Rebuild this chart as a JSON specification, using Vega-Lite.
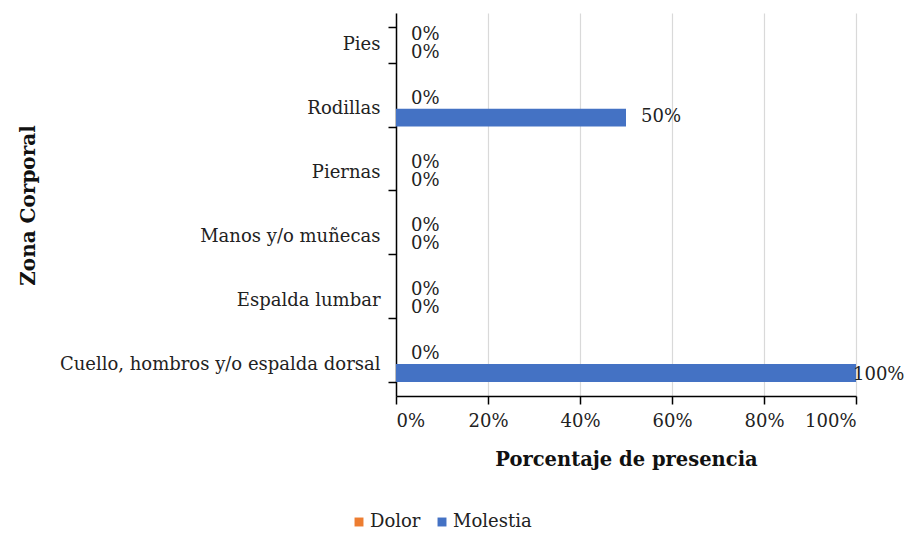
{
  "$schema": "https://vega.github.io/schema/vega-lite/v6.json",
  "width": 460,
  "height": 383,
  "autosize": "none",
  "padding": {"left": 396, "top": 13, "right": 52, "bottom": 139},
  "background": "white",
  "config": {
    "font": "DejaVu Serif",
    "view": {"stroke": null},
    "axis": {"labelFont": "DejaVu Serif", "titleFont": "DejaVu Serif", "labelColor": "#222", "titleColor": "#111"}
  },
  "data": {
    "values": [
      {"zona": "Pies", "serie": "Dolor", "valor": 0},
      {"zona": "Pies", "serie": "Molestia", "valor": 0},
      {"zona": "Rodillas", "serie": "Dolor", "valor": 0},
      {"zona": "Rodillas", "serie": "Molestia", "valor": 0.5},
      {"zona": "Piernas", "serie": "Dolor", "valor": 0},
      {"zona": "Piernas", "serie": "Molestia", "valor": 0},
      {"zona": "Manos y/o muñecas", "serie": "Dolor", "valor": 0},
      {"zona": "Manos y/o muñecas", "serie": "Molestia", "valor": 0},
      {"zona": "Espalda lumbar", "serie": "Dolor", "valor": 0},
      {"zona": "Espalda lumbar", "serie": "Molestia", "valor": 0},
      {"zona": "Cuello, hombros y/o espalda dorsal", "serie": "Dolor", "valor": 0},
      {"zona": "Cuello, hombros y/o espalda dorsal", "serie": "Molestia", "valor": 1}
    ]
  },
  "encoding": {
    "y": {
      "field": "zona",
      "type": "nominal",
      "sort": ["Pies", "Rodillas", "Piernas", "Manos y/o muñecas", "Espalda lumbar", "Cuello, hombros y/o espalda dorsal"],
      "scale": {"paddingInner": 0.44, "paddingOuter": 0.22},
      "axis": {
        "title": "Zona Corporal",
        "titleFontSize": 20,
        "titleFontWeight": "bold",
        "titleX": -368,
        "titleY": 192,
        "titleAlign": "center",
        "titleBaseline": "middle",
        "labelFontSize": 18,
        "labelLimit": 0,
        "labelPadding": 8,
        "tickBand": "extent",
        "tickSize": 8,
        "tickColor": "#000",
        "domainColor": "#000",
        "domainWidth": 1.5,
        "tickWidth": 1.5,
        "grid": false
      }
    },
    "yOffset": {
      "field": "serie",
      "type": "nominal",
      "sort": ["Dolor", "Molestia"],
      "scale": {"paddingInner": 0, "paddingOuter": 0}
    },
    "x": {
      "field": "valor",
      "type": "quantitative",
      "scale": {"domain": [0, 1]},
      "axis": {
        "title": "Porcentaje de presencia",
        "titleFontSize": 19.5,
        "titleFontWeight": "bold",
        "titlePadding": 20,
        "format": ".0%",
        "values": [0, 0.2, 0.4, 0.6, 0.8, 1],
        "labelFontSize": 18,
        "labelPadding": 8,
        "tickSize": 8,
        "tickColor": "#000",
        "tickWidth": 1.5,
        "domainColor": "#000",
        "domainWidth": 1.5,
        "gridColor": "#d9d9d9",
        "gridWidth": 1.2
      }
    }
  },
  "layer": [
    {
      "mark": {"type": "bar", "height": {"band": 1}},
      "encoding": {
        "color": {
          "field": "serie",
          "type": "nominal",
          "sort": ["Dolor", "Molestia"],
          "scale": {"domain": ["Dolor", "Molestia"], "range": ["#ED7D31", "#4472C4"]},
          "legend": {
            "title": null,
            "orient": "none",
            "direction": "horizontal",
            "legendX": -46,
            "legendY": 500,
            "symbolType": "square",
            "symbolSize": 80,
            "symbolStrokeWidth": 0,
            "labelFontSize": 18,
            "labelFont": "DejaVu Serif",
            "labelColor": "#222",
            "labelOffset": 2,
            "columnPadding": 12
          }
        }
      }
    },
    {
      "transform": [{"filter": "datum.valor < 1"}],
      "mark": {"type": "text", "align": "left", "baseline": "middle", "dx": 15, "dy": -1, "fontSize": 18, "font": "DejaVu Serif", "color": "#222"},
      "encoding": {"text": {"field": "valor", "type": "quantitative", "format": ".0%"}}
    },
    {
      "transform": [{"filter": "datum.valor >= 1"}],
      "mark": {"type": "text", "align": "left", "baseline": "middle", "dx": -3, "dy": 2, "fontSize": 18, "font": "DejaVu Serif", "color": "#222"},
      "encoding": {"text": {"field": "valor", "type": "quantitative", "format": ".0%"}}
    }
  ]
}
